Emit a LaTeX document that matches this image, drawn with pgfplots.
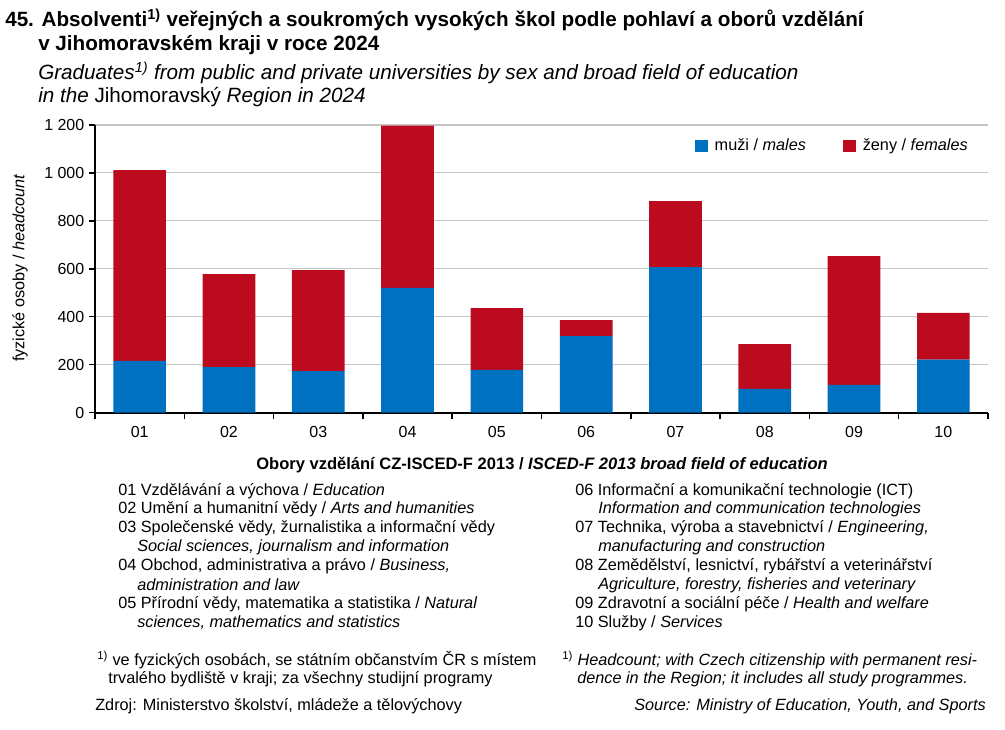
\documentclass[border=0pt]{standalone}
\usepackage{pgfplots}
\pgfplotsset{compat=1.18}
\usepackage{fontspec}
\setmainfont{Liberation Sans}
\definecolor{cblue}{RGB}{0,112,192}
\definecolor{cred}{RGB}{188,10,30}
\begin{document}
\begin{tikzpicture}
\path (0,0) rectangle (753.75pt,546.75pt);
\begin{axis}[
  at={(71.25pt,237.2pt)}, anchor=south west,
  scale only axis, width=669.75pt, height=215.8pt,
  ybar stacked, bar width=0.59,
  xmin=-0.5, xmax=9.5, ymin=0, ymax=1200,
  xtick={0,...,9},
  xticklabels={01,02,03,04,05,06,07,08,09,10},
  minor xtick={-0.5,0.5,...,9.5},
  ytick={0,200,...,1200},
  axis x line*=bottom, axis y line*=left,
  x axis line style={line width=1.6pt, -},
  y axis line style={line width=1.1pt, -},
  major x tick style={draw=none},
  minor x tick style={black, line width=1.1pt},
  major y tick style={black, line width=1pt},
  tick align=outside,
  major tick length=4.5pt, minor tick length=5pt,
  ymajorgrids, grid style={gray!45, line width=0.8pt},
  tick label style={font=\fontsize{12}{14}\selectfont},
  /pgf/number format/assume math mode=true,
  /pgf/number format/1000 sep={\ },
  xticklabel style={yshift=-2pt},
  legend style={at={(0.985,0.927)}, anchor=east, draw=none, fill=none,
    legend columns=2, font=\fontsize{12.2}{14}\selectfont,
    /tikz/every odd column/.append style={column sep=3pt},
    /tikz/every even column/.append style={column sep=26pt}},
  legend image code/.code={\fill[#1] (0pt,-4.8pt) rectangle (9.6pt,4.8pt);},
]
\addplot[fill=cblue, draw=none] coordinates {(0,216) (1,190) (2,174) (3,521) (4,179) (5,320) (6,607) (7,99) (8,116) (9,221)};
\addplot[fill=cred, draw=none] coordinates {(0,796) (1,388) (2,421) (3,676) (4,257) (5,66) (6,275) (7,187) (8,537) (9,195)};
\legend{mu\v{z}i / \textit{males}, \v{z}eny / \textit{females}}
\end{axis}
\begin{scope}[x=0.75pt,y=0.75pt]
\node[anchor=west, inner sep=0pt, font=\fontsize{15.5}{18}\selectfont\bfseries] at (5,729-20) {45. Absolventi\textsuperscript{1)} veřejných a soukromých vysokých škol podle pohlaví a oborů vzdělání};
\node[anchor=west, inner sep=0pt, font=\fontsize{15.5}{18}\selectfont\bfseries] at (38,729-45) {v Jihomoravském kraji v roce 2024};
\node[anchor=west, inner sep=0pt, font=\fontsize{15.5}{18}\selectfont\itshape] at (38,729-73) {Graduates\textsuperscript{1)} from public and private universities by sex and broad field of education};
\node[anchor=west, inner sep=0pt, font=\fontsize{15.5}{18}\selectfont\itshape] at (38,729-97) {in the \textup{Jihomoravský} Region in 2024};
\node[rotate=90, inner sep=0pt, font=\fontsize{12.2}{14}\selectfont] at (20,729-268) {fyzické osoby / \textit{headcount}};
\node[inner sep=0pt, font=\fontsize{12.4}{14}\selectfont\bfseries] at (542,729-465) {Obory vzdělání CZ-ISCED-F 2013 / \textit{ISCED-F 2013 broad field of education}};
\begin{scope}[every node/.style={anchor=west, inner sep=0pt, font=\fontsize{12.2}{14}\selectfont}]
\node at (118,729-491) {01 Vzdělávání a výchova / \textit{Education}};
\node at (118,729-509) {02 Umění a humanitní vědy / \textit{Arts and humanities}};
\node at (118,729-528) {03 Společenské vědy, žurnalistika a informační vědy};
\node at (137,729-547) {\textit{Social sciences, journalism and information}};
\node at (118,729-566) {04 Obchod, administrativa a právo / \textit{Business,}};
\node at (137,729-585) {\textit{administration and law}};
\node at (118,729-604) {05 Přírodní vědy, matematika a statistika / \textit{Natural}};
\node at (137,729-623) {\textit{sciences, mathematics and statistics}};
\node at (575,729-491) {06 Informační a komunikační technologie (ICT)};
\node at (598,729-509) {\textit{Information and communication technologies}};
\node at (575,729-528) {07 Technika, výroba a stavebnictví / \textit{Engineering,}};
\node at (598,729-547) {\textit{manufacturing and construction}};
\node at (575,729-566) {08 Zemědělství, lesnictví, rybářství a veterinářství};
\node at (598,729-585) {\textit{Agriculture, forestry, fisheries and veterinary}};
\node at (575,729-604) {09 Zdravotní a sociální péče / \textit{Health and welfare}};
\node at (575,729-623) {10 Služby / \textit{Services}};
\node at (97,729-660) {\textsuperscript{1)} ve fyzických osobách, se státním občanstvím ČR s místem};
\node at (108,729-679) {trvalého bydliště v kraji; za všechny studijní programy};
\node at (562,729-660) {\textsuperscript{1)} \textit{Headcount; with Czech citizenship with permanent resi-}};
\node at (577,729-679) {\textit{dence in the Region; it includes all study programmes.}};
\node at (95,729-706) {Zdroj: Ministerstvo školství, mládeže a tělovýchovy};
\node[anchor=east] at (986,729-706) {\textit{Source: Ministry of Education, Youth, and Sports}};
\end{scope}
\end{scope}
\end{tikzpicture}
\end{document}
